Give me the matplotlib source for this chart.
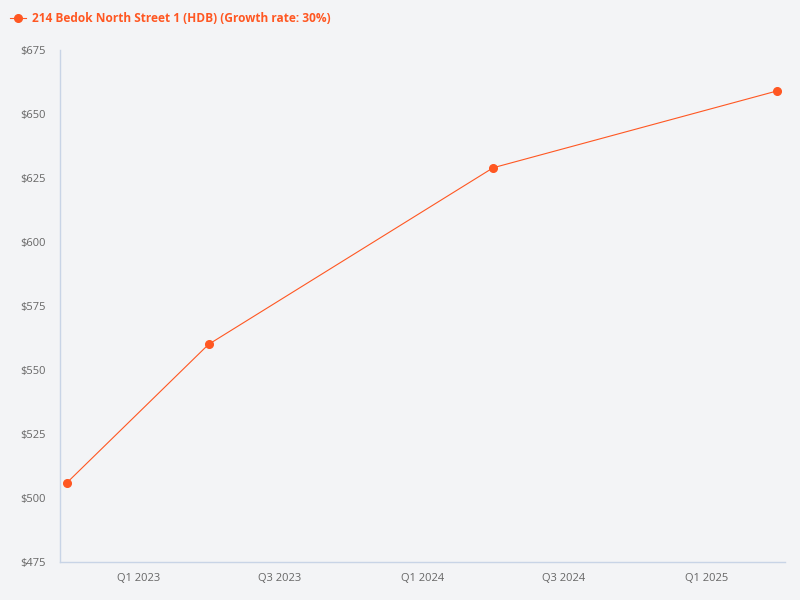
import matplotlib.pyplot as plt
import matplotlib.dates as mdates
from datetime import datetime, timedelta

plt.rcParams['font.family'] = ['Open Sans', 'DejaVu Sans']

dates = ['2022-10-01', '2023-04-01', '2024-04-01', '2025-04-01']
prices = [506, 560, 629, 659]
series_name = '214 Bedok North Street 1 (HDB) (Growth rate: 30%)'
tick_dates = ['2023-01-01', '2023-07-01', '2024-01-01', '2024-07-01', '2025-01-01']
tick_labels = ['Q1 2023', 'Q3 2023', 'Q1 2024', 'Q3 2024', 'Q1 2025']
y_ticks = [475, 500, 525, 550, 575, 600, 625, 650, 675]

bg = '#f3f4f6'
color = '#ff5722'

x = [datetime.strptime(d, '%Y-%m-%d') for d in dates]
xt = [datetime.strptime(d, '%Y-%m-%d') for d in tick_dates]

fig = plt.figure(figsize=(8, 6), dpi=100, facecolor=bg)
ax = fig.add_axes([0.075, 0.0633, 0.906, 0.8534])
ax.set_facecolor(bg)

line, = ax.plot(x, prices, color=color, linewidth=0.8, marker='o',
                markersize=5.5, label=series_name)

ax.set_xlim(x[0] - timedelta(days=9), x[-1] + timedelta(days=10))
ax.set_ylim(475, 675)
ax.set_xticks(xt)
ax.set_xticklabels(tick_labels)
ax.set_yticks(y_ticks)
ax.set_yticklabels(['$%d' % v for v in y_ticks])
ax.tick_params(length=0, labelsize=8, colors='#666666', pad=10)
ax.tick_params(axis='x', pad=8)

for s in ['top', 'right']:
    ax.spines[s].set_visible(False)
for s in ['left', 'bottom']:
    ax.spines[s].set_color('#c8d4e6')
    ax.spines[s].set_linewidth(1)

leg = fig.legend(handles=[line], loc='upper left', bbox_to_anchor=(0.0, 0.996),
                 frameon=False, handlelength=1.4, handletextpad=0.45,
                 borderaxespad=0.5, borderpad=0.3, prop={'weight': 'bold', 'size': 8.6})
for t in leg.get_texts():
    t.set_color(color)

fig.savefig('out.png', dpi=100, facecolor=bg)
